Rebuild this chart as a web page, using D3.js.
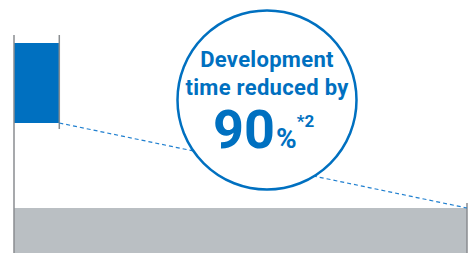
<!doctype html>
<html lang="en">
  <head>
    <meta charset="UTF-8">
    <title>Development time</title>
    <style>
      body { margin: 0; background: #fff; }
      .label { font-family: Roboto, "Noto Sans", sans-serif; font-weight: 700; fill: #0070c0; text-anchor: middle; }
    </style>
  </head>
  <body>
    <svg width="468" height="253"></svg>
    <script src="https://d3js.org/d3.v7.min.js"></script>
    <script>
      var categories = ["New method", "Conventional"];
      var values = [10, 100];
      var calloutLines = ["Development", "time reduced by"];
      var reduction = 90;

      var svg = d3.select("svg");

      var x = d3.scaleLinear().domain([0, 100]).range([14, 467]);
      var y = d3.scaleBand().domain(categories).range([43, 288]).paddingInner(85 / 165);

      var colors = d3.scaleOrdinal().domain(categories).range(["#0070c0", "#babfc3"]);

      svg.selectAll("rect.bar")
        .data(categories)
        .enter().append("rect")
        .attr("class", "bar")
        .attr("x", x(0))
        .attr("y", function (d) { return y(d); })
        .attr("width", function (d, i) { return x(values[i]) - x(0); })
        .attr("height", y.bandwidth())
        .attr("fill", function (d) { return colors(d); });

      // marker lines at start and at each bar end
      var grey = "#8a8d90";
      svg.append("line")
        .attr("x1", x(0)).attr("x2", x(0))
        .attr("y1", y(categories[0]) - 8).attr("y2", 253)
        .attr("stroke", grey).attr("stroke-width", 1.5);
      svg.append("line")
        .attr("x1", x(values[0])).attr("x2", x(values[0]))
        .attr("y1", y(categories[0]) - 8).attr("y2", y(categories[0]) + y.bandwidth() + 6)
        .attr("stroke", grey).attr("stroke-width", 1.5);
      svg.append("line")
        .attr("x1", x(values[1])).attr("x2", x(values[1]))
        .attr("y1", y(categories[1]) - 5).attr("y2", 253)
        .attr("stroke", grey).attr("stroke-width", 1.5);

      // dashed connector between bar ends
      svg.append("line")
        .attr("x1", x(values[0])).attr("y1", y(categories[0]) + y.bandwidth())
        .attr("x2", x(values[1])).attr("y2", y(categories[1]))
        .attr("stroke", "#1f7fcf").attr("stroke-width", 1.2)
        .attr("stroke-dasharray", "4,3");

      // callout circle
      var cx = 267, cy = 100;
      svg.append("circle")
        .attr("cx", cx).attr("cy", cy).attr("r", 89.5)
        .attr("fill", "#fff")
        .attr("stroke", "#0070c0").attr("stroke-width", 2.5);

      svg.selectAll("text.line")
        .data(calloutLines)
        .enter().append("text")
        .attr("class", "label line")
        .attr("x", cx)
        .attr("y", function (d, i) { return 67 + i * 28; })
        .style("font-size", "22px")
        .style("letter-spacing", "0.3px")
        .text(function (d) { return d; });

      var big = svg.append("text")
        .attr("class", "label")
        .style("text-anchor", "start")
        .attr("x", 213).attr("y", 148);
      big.append("tspan").style("font-size", "54px").text(reduction);
      big.append("tspan").style("font-size", "28px").attr("dx", 1).text("%");
      big.append("tspan").style("font-size", "17px").attr("dy", -21).text("*2");
    </script>
  </body>
</html>
